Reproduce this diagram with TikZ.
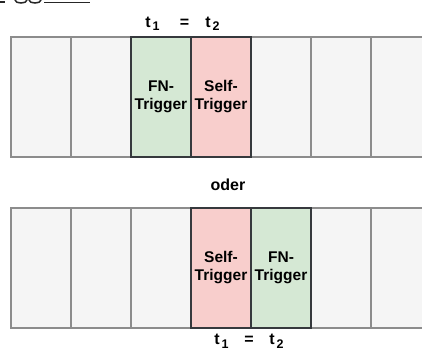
\documentclass[tikz,border=0pt]{standalone}
\usepackage{fontspec}
\setmainfont{Liberation Sans}
\definecolor{cellfill}{HTML}{F5F5F5}
\definecolor{cellline}{HTML}{8C8C8C}
\definecolor{greenfill}{HTML}{D5E8D4}
\definecolor{redfill}{HTML}{F8CECC}
\definecolor{darkline}{HTML}{36393D}
\begin{document}
\begin{tikzpicture}[x=1pt,y=-1pt,
  cellbox/.style={draw=cellline, fill=cellfill, line width=1.3pt, minimum width=60pt, minimum height=120pt, inner sep=0pt, outer sep=0pt, anchor=north west},
  greenbox/.style={cellbox, draw=darkline, fill=greenfill, align=center, font=\bfseries\fontsize{15.5}{18}\selectfont},
  redbox/.style={cellbox, draw=darkline, fill=redfill, align=center, font=\bfseries\fontsize{15.5}{18}\selectfont},
  lbl/.style={inner sep=0pt, anchor=base, font=\bfseries\fontsize{16}{18}\selectfont},
  sublbl/.style={inner sep=0pt, anchor=base, font=\bfseries\fontsize{12.5}{14}\selectfont}]
\useasboundingbox (0,0) rectangle (422,351);
\clip (0,0) rectangle (422,351);
% cropped fragment at top left
\draw[line width=1.5pt, black!85] (0,2) -- (5,2);
\draw[line width=1.5pt, black!85] (15,0) .. controls (15,4) and (27,4) .. (27,0);
\draw[line width=1.5pt, black!85] (29,0) .. controls (29,4) and (41,4) .. (41,0);
\draw[line width=1.5pt, black!85] (44,2.5) -- (90,2.5);
% top row
\foreach \i in {0,1,4,5,6,7} {
  \node[cellbox] (a\i) at (11+60*\i,37) {};
}
\node[greenbox] (a2) at (131,37) {FN-\\Trigger};
\node[redbox] (a3) at (191,37) {Self-\\Trigger};
% bottom row
\foreach \i in {0,1,2,5,6,7} {
  \node[cellbox] (b\i) at (11+60*\i,208) {};
}
\node[redbox] (b3) at (191,208) {Self-\\Trigger};
\node[greenbox] (b4) at (251,208) {FN-\\Trigger};
% labels
\node[lbl] (tt1) at (148,27) {t};
\node[sublbl] (tt1s) at (156,30) {1};
\node[lbl] (teq) at (184.5,27) {=};
\node[lbl] (tt2) at (208,27) {t};
\node[sublbl] (tt2s) at (216,30) {2};
\node[lbl] (oder) at (228,190) {oder};
\node[lbl] (bt1) at (217,344) {t};
\node[sublbl] (bt1s) at (225,348) {1};
\node[lbl] (beq) at (249,344) {=};
\node[lbl] (bt2) at (272,344) {t};
\node[sublbl] (bt2s) at (280,348) {2};
\end{tikzpicture}
\end{document}
